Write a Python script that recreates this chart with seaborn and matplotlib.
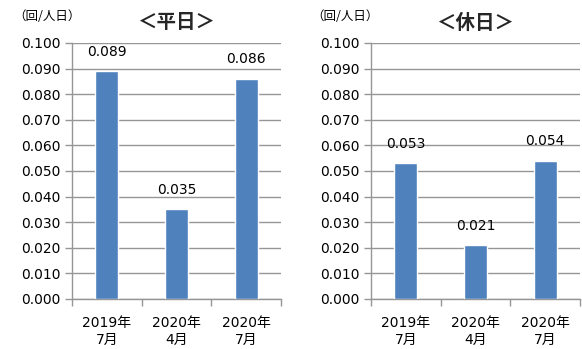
import matplotlib
matplotlib.use("Agg")
import matplotlib.pyplot as plt
import seaborn as sns
import pandas as pd
import numpy as np

categories = ["2019年\n7月", "2020年\n4月", "2020年\n7月"]
weekday_values = [0.089, 0.035, 0.086]
holiday_values = [0.053, 0.021, 0.054]
value_labels_weekday = ["0.089", "0.035", "0.086"]
value_labels_holiday = ["0.053", "0.021", "0.054"]
titles = ["＜平日＞", "＜休日＞"]
unit_label = "（回/人日）"
y_ticks = [0.0, 0.01, 0.02, 0.03, 0.04, 0.05, 0.06, 0.07, 0.08, 0.09, 0.10]

sns.set_theme(style="white")
plt.rcParams['font.family'] = ['DejaVu Sans', 'Noto Sans CJK JP']

fig = plt.figure(figsize=(5.82, 3.49), dpi=100)
bar_color = "#4F81BD"
grid_color = "#969696"

panels = [
    (72 / 582, weekday_values, value_labels_weekday, titles[0], 13 / 582),
    (371 / 582, holiday_values, value_labels_holiday, titles[1], 311 / 582),
]
for x0, vals, labs, title, ux in panels:
    ax = fig.add_axes([x0, 1 - 299 / 349, 209 / 582, 256 / 349])
    df = pd.DataFrame({"cat": categories, "val": vals})
    sns.barplot(data=df, x="cat", y="val", color=bar_color, width=0.33,
                saturation=1, ax=ax, zorder=3)
    ax.set_xlim(-0.5, 2.5)
    ax.set_ylim(0, 0.1)
    ax.set_yticks(y_ticks)
    ax.set_yticklabels([f"{v:.3f}" for v in y_ticks], fontsize=10, color="#000000")
    ax.yaxis.grid(True, color=grid_color, linewidth=1, zorder=0)
    ax.set_axisbelow(True)
    # category ticks at boundaries, labels at centers
    ax.set_xticks([-0.5, 0.5, 1.5, 2.5])
    ax.set_xticklabels([])
    ax.set_xticks([0, 1, 2], minor=True)
    ax.set_xticklabels(categories, minor=True, fontsize=10, linespacing=1.3,
                       color="#000000")
    ax.tick_params(axis="x", which="major", length=5, width=1, color=grid_color,
                   direction="out", bottom=True)
    ax.tick_params(axis="x", which="minor", length=0, pad=12)
    ax.tick_params(axis="y", length=5, width=1, color=grid_color, direction="out",
                   left=True, pad=3)
    ax.set_xlabel("")
    ax.set_ylabel("")
    for s in ["top", "right"]:
        ax.spines[s].set_visible(False)
    for s in ["left", "bottom"]:
        ax.spines[s].set_color(grid_color)
        ax.spines[s].set_linewidth(1)
    for i, (v, lab) in enumerate(zip(vals, labs)):
        ax.annotate(lab, (i, v), xytext=(0, 9), textcoords="offset points",
                    ha="center", va="bottom", fontsize=10, color="#000000")
    ax.set_title(title, fontsize=14, fontweight="bold", pad=0,
                 family=['Noto Sans CJK JP', 'DejaVu Sans'], y=1.0)
    ax.title.set_position((0.5, 1 + (43 - 23) / 256))
    ax.title.set_va("center")
    fig.text(ux, 1 - 17 / 349, unit_label, fontsize=9, va="center", ha="left",
             family=['Noto Sans CJK JP', 'DejaVu Sans'], color="#000000")

fig.savefig("out.png", dpi=100)
